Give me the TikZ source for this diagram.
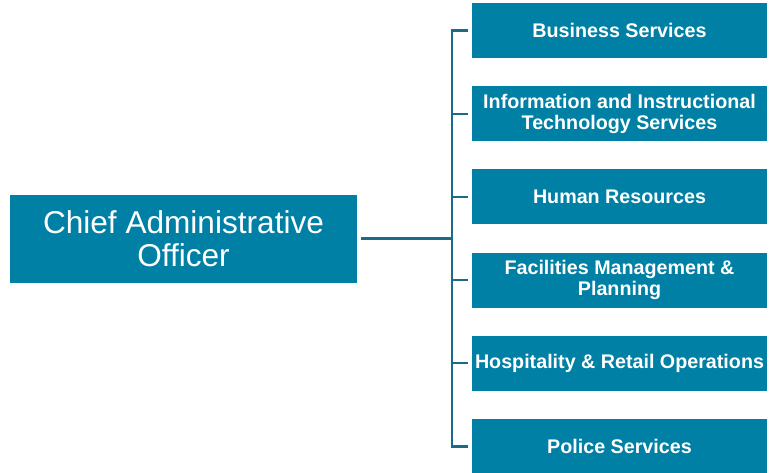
\documentclass[tikz,border=0pt]{standalone}
\usepackage{fontspec}
\setmainfont{Liberation Sans}
\definecolor{boxfill}{HTML}{0080A4}
\definecolor{linecol}{HTML}{1B6A87}
\begin{document}
\begin{tikzpicture}[x=1pt,y=-1pt,
  chiefbox/.style={draw=none,fill=boxfill,text=white,align=center,minimum width=347pt,minimum height=88pt,inner sep=0pt,font=\fontsize{31.6}{33}\selectfont},
  unitbox/.style={draw=none,fill=boxfill,text=white,align=center,minimum width=295pt,minimum height=55pt,inner sep=0pt,font=\bfseries\fontsize{19.7}{21}\selectfont},
  ln/.style={draw=linecol,line width=2.2pt,line join=miter},
  mainln/.style={draw=linecol,line width=3pt}]
\useasboundingbox (0,0) rectangle (770,473);
\node[chiefbox] (chief) at (183.5,238.7) {Chief Administrative\\Officer};
\node[unitbox] (b1) at (619.5,30.5) {Business Services};
\node[unitbox] (b2) at (619.5,113.7) {Information and Instructional\\Technology Services};
\node[unitbox] (b3) at (619.5,196.9) {Human Resources};
\node[unitbox] (b4) at (619.5,280.1) {Facilities Management \&\\Planning};
\node[unitbox] (b5) at (619.5,363.3) {Hospitality \& Retail Operations};
\node[unitbox] (b6) at (619.5,446.5) {Police Services};
\coordinate (j) at (452,238.7);
\draw[mainln,shorten <=4pt] (chief.east) -- (j);
\draw[ln] ([xshift=-4pt]b1.west) -| (j) |- ([xshift=-4pt]b6.west);
\foreach \b in {b2,b3,b4,b5}{
  \draw[ln] (j |- \b.west) -- ([xshift=-4pt]\b.west);
}
\end{tikzpicture}
\end{document}
